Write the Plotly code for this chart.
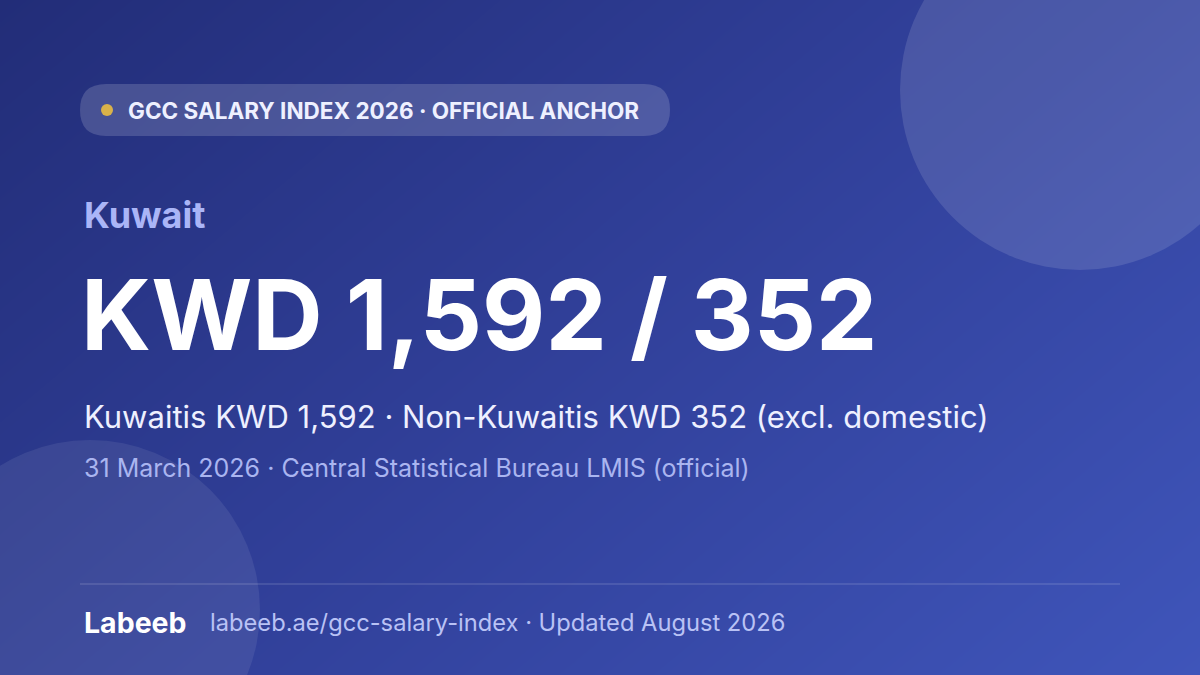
import plotly.graph_objects as go
import numpy as np

badge_text = "GCC SALARY INDEX 2026 · OFFICIAL ANCHOR"
country = "Kuwait"
headline = "KWD 1,592 / 352"
subtitle = "Kuwaitis KWD 1,592 · Non-Kuwaitis KWD 352 (excl. domestic)"
source_line = "31 March 2026 · Central Statistical Bureau LMIS (official)"
brand = "Labeeb"
footer = "labeeb.ae/gcc-salary-index · Updated August 2026"

W, H = 1200, 675
gx = np.linspace(0, W, 40)
gy = np.linspace(0, H, 24)
Z = (gx[None, :] / W) * 0.6 + (gy[:, None] / H) * 0.4

fig = go.Figure(go.Heatmap(x=gx, y=gy, z=Z, zsmooth="best", showscale=False, hoverinfo="skip",
                           colorscale=[[0, "#222d78"], [0.5, "#31409a"], [1, "#3f55ba"]]))

def rounded(x0, x1, y0, y1, r):
    return (f"M{x0+r},{y0} L{x1-r},{y0} Q{x1},{y0} {x1},{y0+r} L{x1},{y1-r} Q{x1},{y1} {x1-r},{y1} "
            f"L{x0+r},{y1} Q{x0},{y1} {x0},{y1-r} L{x0},{y0+r} Q{x0},{y0} {x0+r},{y0} Z")

shapes = [
    dict(type="circle", x0=900, x1=1260, y0=-90, y1=270, fillcolor="rgba(255,255,255,0.12)", line_width=0, layer="above"),
    dict(type="circle", x0=-80, x1=260, y0=440, y1=780, fillcolor="rgba(255,255,255,0.08)", line_width=0, layer="above"),
    dict(type="path", path=rounded(80, 670, 84, 136, 26), fillcolor="rgba(255,255,255,0.16)", line_width=0, layer="above"),
    dict(type="circle", x0=101, x1=113, y0=104, y1=116, fillcolor="#d9b24a", line_width=0, layer="above"),
    dict(type="line", x0=80, x1=1120, y0=584, y1=584, line=dict(color="rgba(255,255,255,0.22)", width=1), layer="above"),
]

def ann(x, y, text, size, color, bold=False):
    return dict(x=x, y=y, xref="x", yref="y", text=f"<b>{text}</b>" if bold else text, showarrow=False,
                xanchor="left", yanchor="middle", font=dict(family="Inter", size=size, color=color))

anns = [
    ann(126, 110, badge_text, 22.5, "#eef0ff", True),
    ann(82, 215, country, 36, "#aab5f7", True),
    ann(79, 315, headline, 97.5, "#ffffff", True),
    ann(82, 416, subtitle, 31, "#eef0ff"),
    ann(82, 468, source_line, 25, "#aab5f0"),
    ann(82, 622, brand, 28.5, "#ffffff", True),
    ann(208, 622, footer, 23.7, "#b9c2f5"),
]

fig.update_layout(width=W, height=H, margin=dict(l=0, r=0, t=0, b=0),
                  xaxis=dict(range=[0, W], visible=False, fixedrange=True),
                  yaxis=dict(range=[H, 0], visible=False, fixedrange=True),
                  shapes=shapes, annotations=anns, paper_bgcolor="#2a3688", plot_bgcolor="#2a3688")
fig.write_html("out.html", config={"displayModeBar": False},
               post_script="document.body.style.margin='0';document.body.style.overflow='hidden';")
